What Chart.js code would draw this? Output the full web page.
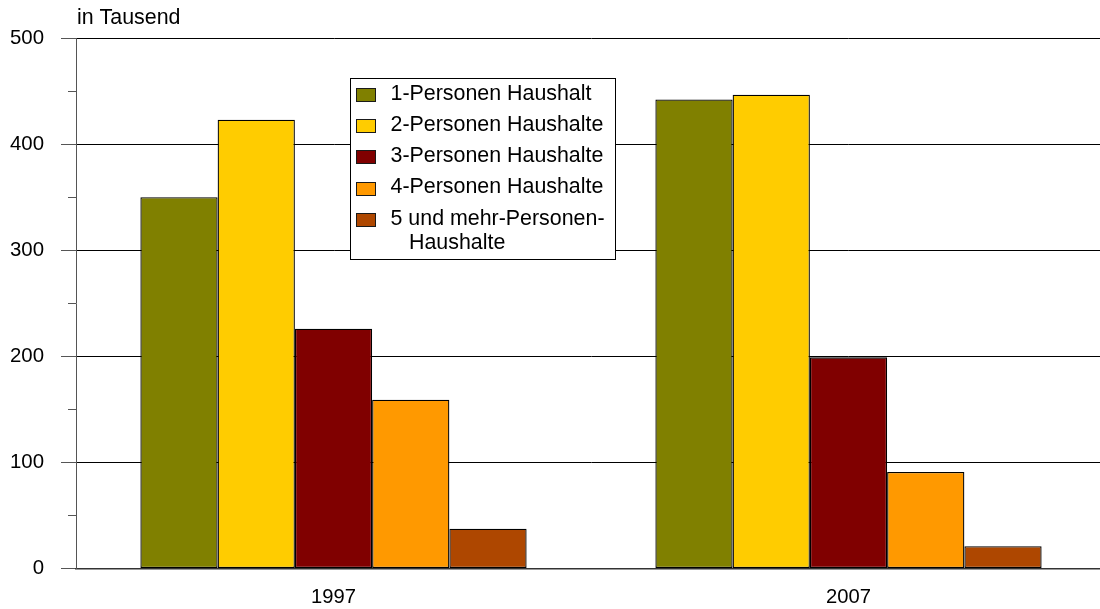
<!DOCTYPE html>
<html>
<head>
<meta charset="utf-8">
<script src="https://cdn.jsdelivr.net/npm/chart.js@4/dist/chart.umd.min.js"></script>
<style>
  html, body { margin: 0; padding: 0; background: #fff; overflow: hidden; width: 1100px; height: 609px; }
  #wrap { width: 1100px; height: 609px; overflow: hidden; position: relative; }
  canvas { display: block; }
</style>
</head>
<body>
<div id="wrap"><canvas id="c" width="1106" height="609"></canvas></div>
<script>
// ---- data ----
const categories = ['1997', '2007'];
const seriesLabels = ['1-Personen Haushalt', '2-Personen Haushalte', '3-Personen Haushalte', '4-Personen Haushalte', '5 und mehr-Personen-Haushalte'];
const legendLines = [['1-Personen Haushalt'], ['2-Personen Haushalte'], ['3-Personen Haushalte'], ['4-Personen Haushalte'], ['5 und mehr-Personen-', 'Haushalte']];
const personen1 = [350, 442];
const personen2 = [423, 446.5];
const personen3 = [226, 199];
const personen4 = [159, 91];
const personen5 = [37.5, 21];
const seriesValues = [personen1, personen2, personen3, personen4, personen5];
const seriesColors = ['#808000', '#FFCC00', '#800000', '#FF9900', '#AE4700'];
const yTicks = [0, 100, 200, 300, 400, 500];
const yMinorTicks = [50, 150, 250, 350, 450];
const unitLabel = 'in Tausend';

const FONT = '"Liberation Sans", Arial, sans-serif';

const datasets = seriesValues.map((vals, i) => ({
  label: seriesLabels[i],
  data: vals,
  backgroundColor: seriesColors[i],
  borderColor: '#000',
  borderWidth: 1.3,
  borderSkipped: false,
  categoryPercentage: 0.75,
  barPercentage: 1.0
}));

const extras = {
  id: 'extras',
  afterDraw(chart) {
    const ctx = chart.ctx;
    const y = chart.scales.y;
    const area = chart.chartArea;
    ctx.save();
    // minor ticks
    ctx.strokeStyle = '#555';
    ctx.lineWidth = 1;
    yMinorTicks.forEach(v => {
      const py = Math.round(y.getPixelForValue(v)) + 0.5;
      ctx.beginPath();
      ctx.moveTo(area.left - 8, py);
      ctx.lineTo(area.left, py);
      ctx.stroke();
    });
    // unit label
    ctx.fillStyle = '#000';
    ctx.font = '21.4px ' + FONT;
    ctx.textAlign = 'left';
    ctx.textBaseline = 'alphabetic';
    ctx.fillText(unitLabel, 77, 24);
    // legend
    const lx = 350.5, ly = 78.5, lw = 265, lh = 181;
    ctx.fillStyle = '#fff';
    ctx.fillRect(lx, ly, lw, lh);
    ctx.strokeStyle = '#000';
    ctx.strokeRect(lx, ly, lw, lh);
    ctx.font = '21.4px ' + FONT;
    ctx.textBaseline = 'middle';
    legendLines.forEach((lines, i) => {
      const cy = 94.5 + i * 31.2;
      ctx.fillStyle = seriesColors[i];
      ctx.fillRect(356.5, Math.round(cy - 6.5) + 0.5, 19, 13);
      ctx.strokeStyle = '#1a1a1a';
      ctx.strokeRect(356.5, Math.round(cy - 6.5) + 0.5, 19, 13);
      ctx.fillStyle = '#000';
      lines.forEach((t, j) => {
        ctx.fillText(t, j === 0 ? 390.5 : 409, cy - 0.5 + j * 24.5);
      });
    });
    ctx.restore();
  }
};

new Chart(document.getElementById('c'), {
  type: 'bar',
  data: { labels: categories, datasets },
  options: {
    responsive: false,
    animation: false,
    devicePixelRatio: 1,
    layout: { padding: { top: 38, right: 0, bottom: 0, left: 0 } },
    plugins: { legend: { display: false }, tooltip: { enabled: false }, title: { display: false } },
    scales: {
      x: {
        grid: { display: false, drawTicks: false },
        border: { display: true, color: '#333', width: 1.5 },
        ticks: { color: '#000', font: { family: FONT, size: 20.2 }, padding: 17 },
        afterFit(s) { s.height = 40.5; }
      },
      y: {
        min: 0, max: 500,
        afterBuildTicks(s) { s.ticks = yTicks.map(v => ({ value: v })); },
        ticks: { color: '#000', font: { family: FONT, size: 20.4 }, padding: 17 },
        grid: { color: '#000', lineWidth: 1, tickLength: 15, tickColor: '#555' },
        border: { display: true, color: '#555', width: 1 },
        afterFit(s) { s.width = 76; }
      }
    }
  },
  plugins: [extras]
});
</script>
</body>
</html>
